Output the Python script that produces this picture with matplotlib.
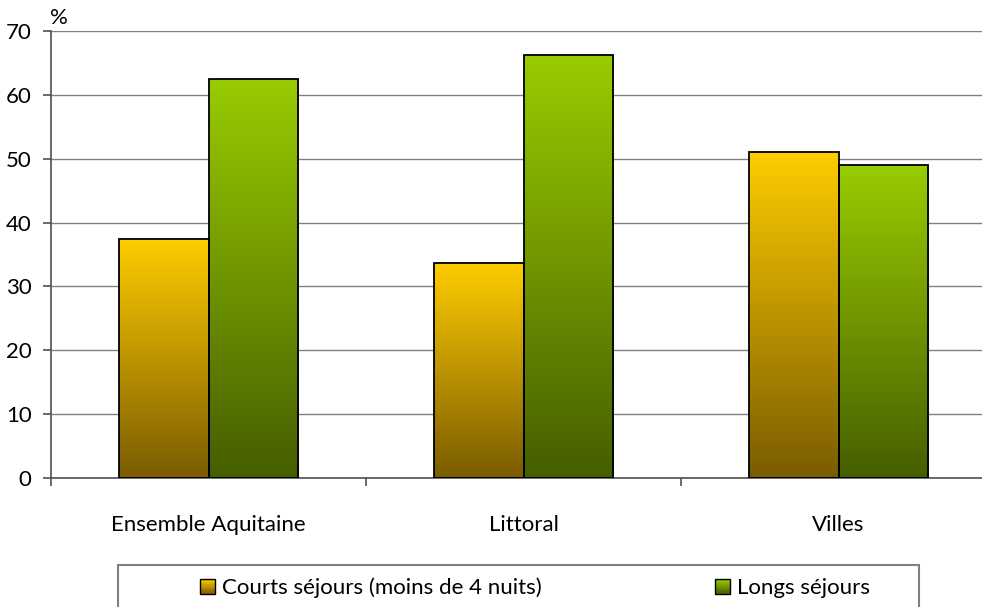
import numpy as np
import matplotlib
matplotlib.use("Agg")
import matplotlib.pyplot as plt
from matplotlib.patches import Rectangle
from matplotlib.colors import LinearSegmentedColormap
from matplotlib.legend_handler import HandlerBase

plt.rcParams['font.family'] = ['Lato', 'DejaVu Sans']

categories = ["Ensemble Aquitaine", "Littoral", "Villes"]
series_names = ["Courts séjours (moins de 4 nuits)", "Longs séjours"]
courts = [37.5, 33.7, 51.0]
longs = [62.5, 66.3, 49.0]
yticks = [0, 10, 20, 30, 40, 50, 60, 70]

grad_orange = ("#7A5C00", "#FFCC00")
grad_green = ("#455E00", "#99CC00")

FS = 16
W, H = 982, 607
fig = plt.figure(figsize=(W / 100, H / 100), dpi=100)
ax = fig.add_axes([51 / W, (H - 478) / H, 945 / W, 447 / H])

bw = 0.2857
x = np.arange(len(categories))
grad = np.linspace(0, 1, 256).reshape(-1, 1)


def gradient_bars(xpos, vals, cols):
    cmap = LinearSegmentedColormap.from_list("g", list(cols))
    bars = ax.bar(xpos, vals, width=bw, facecolor="none", edgecolor="black",
                  linewidth=1.3, zorder=4)
    for b in bars:
        x0, y0 = b.get_x(), b.get_y()
        w, h = b.get_width(), b.get_height()
        im = ax.imshow(grad, cmap=cmap, origin="lower", aspect="auto",
                       extent=[x0, x0 + w, y0, y0 + h], zorder=3,
                       interpolation="bilinear")
        im.set_clip_path(Rectangle((x0, y0), w, h, transform=ax.transData))
    return bars


gradient_bars(x - bw / 2, courts, grad_orange)
gradient_bars(x + bw / 2, longs, grad_green)

ax.set_xlim(-0.5, 2.5)
ax.set_ylim(0, 70)
ax.set_yticks(yticks)
ax.yaxis.grid(True, color="#808080", linewidth=1.0)
ax.set_axisbelow(True)
for s in ["top", "right"]:
    ax.spines[s].set_visible(False)
for s in ["left", "bottom"]:
    ax.spines[s].set_color("#505050")
    ax.spines[s].set_linewidth(1.2)

ax.set_xticks(x)
ax.set_xticklabels(categories)
ax.set_xticks([-0.5, 0.5, 1.5, 2.5], minor=True)
ax.tick_params(axis="x", which="major", length=0, pad=26.5, labelsize=FS)
ax.tick_params(axis="x", which="minor", length=6, width=1.2, color="#505050", direction="out")
ax.tick_params(axis="y", length=6, width=1.2, color="#505050", pad=8, labelsize=FS)

fig.text(50 / W, 1 - 18 / H, "%", fontsize=FS, ha="left", va="center")


class GradHandler(HandlerBase):
    def __init__(self, cols):
        super().__init__()
        self.cols = cols

    def create_artists(self, legend, orig_handle, xdescent, ydescent,
                       width, height, fontsize, trans):
        n = 12
        c0 = np.array(matplotlib.colors.to_rgb(self.cols[0]))
        c1 = np.array(matplotlib.colors.to_rgb(self.cols[1]))
        side = 10.5
        x0 = -xdescent + width - side
        y0 = -ydescent + (height - side) / 2
        arts = []
        for i in range(n):
            t = (i + 0.5) / n
            r = Rectangle((x0, y0 + side * i / n), side, side / n,
                          facecolor=c0 * (1 - t) + c1 * t, edgecolor="none",
                          transform=trans)
            arts.append(r)
        arts.append(Rectangle((x0, y0), side, side, facecolor="none",
                              edgecolor="black", linewidth=1.0, transform=trans))
        return arts


class H1: pass
class H2: pass

h1, h2 = H1(), H2()
fig.legend([h1, h2], series_names,
           handler_map={H1: GradHandler(grad_orange), H2: GradHandler(grad_green)},
           loc="center left", bbox_to_anchor=(199.4 / W, 1 - 588 / H),
           ncol=2, frameon=False, fontsize=FS, handlelength=0.7,
           handletextpad=0.315, columnspacing=7.76, borderaxespad=0, borderpad=0)

fig.patches.append(Rectangle((118 / W, -0.1), (919 - 118) / W, 0.1 + (H - 565) / H,
                             transform=fig.transFigure, fill=False,
                             edgecolor="#808080", linewidth=1.5))

fig.savefig("out.png", dpi=100)
